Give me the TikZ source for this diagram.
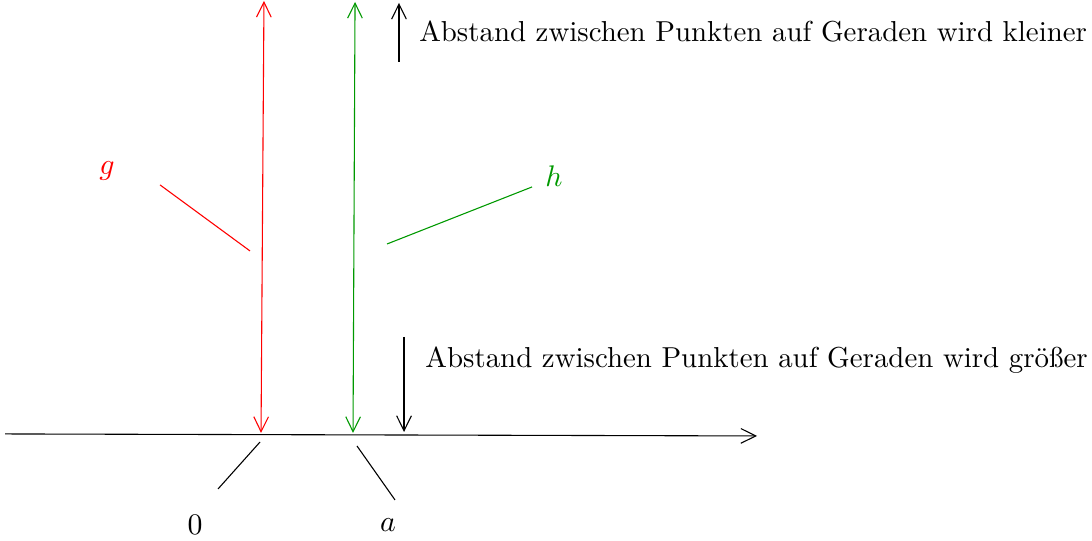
\documentclass[tikz,border=0pt]{standalone}
\usetikzlibrary{arrows.meta}
\begin{document}
\begin{tikzpicture}[
  >={Straight Barb[length=5.5pt, width=5.4pt]},
  ax/.style={thin, ->},
  gcol/.style={red},
  hcol/.style={green!60!black},
  lbl/.style={inner sep=1.5pt, font=\fontsize{10.6pt}{12.7pt}\selectfont}
]
\useasboundingbox (0,0) rectangle (14.09,6.98);
% ---------------- axis and the two lines --------------------------
\coordinate (axl) at (0.065,1.381);
\coordinate (axr) at (9.768,1.355);
\draw[ax] (axl) -- (axr);
\coordinate (gt) at (3.406,6.968);
\coordinate (gb) at (3.368,1.394);
\draw[thin, <->, gcol] (gt) -- (gb);
\coordinate (ht) at (4.581,6.955);
\coordinate (hb) at (4.555,1.394);
\draw[thin, <->, hcol] (ht) -- (hb);
% ---------------- labels of the lines --------------------------
\node[lbl, text=red] (g) at (1.381,4.774) {$g$};
\coordinate (gp1) at (2.065,4.594);
\coordinate (gp2) at (3.226,3.742);
\draw[thin, gcol] (gp1) -- (gp2);
\node[lbl, text=green!60!black] (h) at (7.148,4.71) {$h$};
\coordinate (hp1) at (4.994,3.832);
\coordinate (hp2) at (6.865,4.568);
\draw[thin, hcol] (hp1) -- (hp2);
% ---------------- points on the axis --------------------------
\node[lbl] (zero) at (2.516,0.206) {$0$};
\coordinate (zp1) at (2.813,0.671);
\coordinate (zp2) at (3.355,1.277);
\draw[thin] (zp1) -- (zp2);
\node[lbl] (a) at (5.006,0.206) {$a$};
\coordinate (ap1) at (4.606,1.226);
\coordinate (ap2) at (5.097,0.529);
\draw[thin] (ap1) -- (ap2);
% ---------------- distance remarks --------------------------
\coordinate (up1) at (5.148,6.181);
\coordinate (up2) at (5.148,6.942);
\draw[thin, ->] (up1) -- (up2);
\node[lbl, anchor=west] (kl) at (5.35,6.568) {Abstand zwischen Punkten auf Geraden wird kleiner};
\coordinate (dn1) at (5.213,2.632);
\coordinate (dn2) at (5.213,1.406);
\draw[thin, ->] (dn1) -- (dn2);
\node[lbl, anchor=west] (gr) at (5.43,2.335) {Abstand zwischen Punkten auf Geraden wird größer};
\end{tikzpicture}
\end{document}
